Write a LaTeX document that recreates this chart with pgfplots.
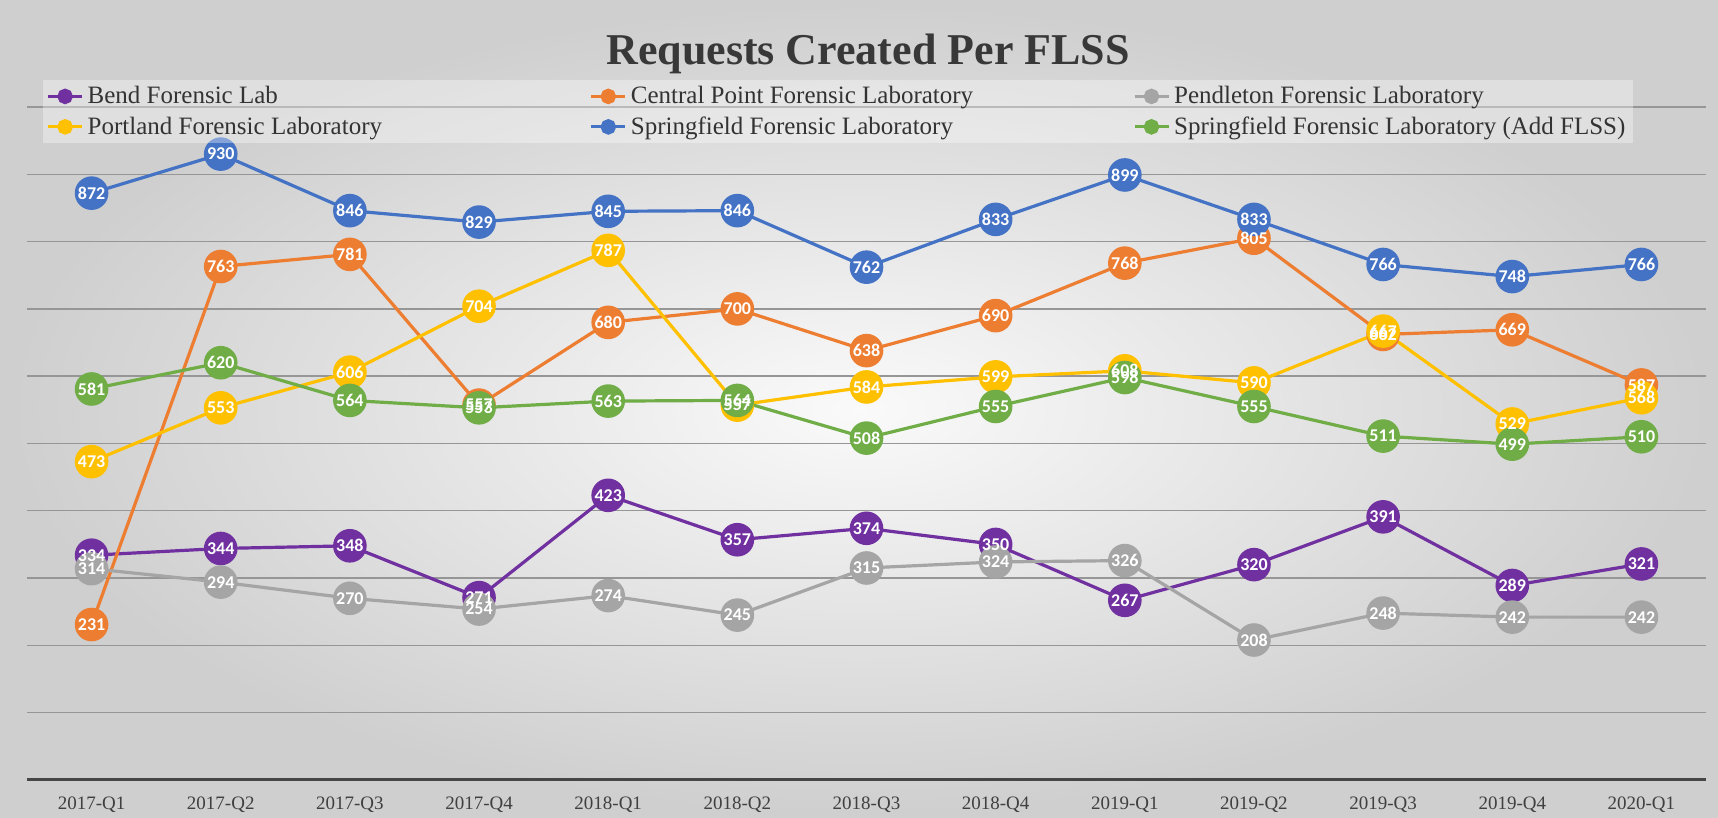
\documentclass[border=0pt]{standalone}
\usepackage{pgfplots}
\pgfplotsset{compat=1.18}
\usepackage{fontspec}
\setmainfont{Liberation Serif}
\newfontfamily\lblfont{Carlito}
\definecolor{cBend}{HTML}{7030A0}
\definecolor{cCent}{HTML}{ED7D31}
\definecolor{cPend}{HTML}{A5A5A5}
\definecolor{cPort}{HTML}{FFC000}
\definecolor{cSpri}{HTML}{4472C4}
\definecolor{cAdd}{HTML}{70AD47}
\definecolor{gridc}{RGB}{150,150,150}
\definecolor{axisc}{RGB}{70,70,70}
\begin{document}
\begin{tikzpicture}
\useasboundingbox (0,0) rectangle (859pt,409pt);
\shade[inner color=black!2, outer color=black!19] (0,0) rectangle (859pt,409pt);
\node[font=\bfseries\fontsize{22}{26}\selectfont, text=black!78] at (434pt,382pt) {Requests Created Per FLSS};
\begin{axis}[
  at={(13.5pt,19pt)}, anchor=south west,
  scale only axis, width=839.5pt, height=336.5pt,
  xmin=-0.5, xmax=12.5, ymin=0, ymax=1000,
  axis line style={draw=none},
  ytick={100,200,...,1000}, yticklabels={},
  extra y ticks={0}, extra y tick labels={},
  extra y tick style={grid style={draw=axisc, line width=1.5pt}},
  ymajorgrids, grid style={draw=gridc, line width=0.7pt},
  xtick={0,...,12},
  xticklabels={2017-Q1,2017-Q2,2017-Q3,2017-Q4,2018-Q1,2018-Q2,2018-Q3,2018-Q4,2019-Q1,2019-Q2,2019-Q3,2019-Q4,2020-Q1},
  major tick length=0pt,
  x tick label style={font=\fontsize{9.5}{11}\selectfont, text=black!75, yshift=-5pt},
  clip=false,
  /pgf/number format/assume math mode=true,
  legend columns=3,
  legend cell align=left,
  legend style={at={(0.009,0.993)}, anchor=west, draw=none, fill=white, fill opacity=0.35, text opacity=1,
     font=\fontsize{12.5}{14}\selectfont, text=black!80, inner xsep=2pt, inner ysep=1pt, row sep=1pt},
  legend image code/.code={\draw[line width=1.6pt] (0pt,0pt) -- (17pt,0pt); \draw[line width=3.8pt] (8.5pt,0pt) circle (1.9pt);},
  every axis plot/.append style={line width=1.6pt, mark=*, mark size=7.6pt},
  lab/.style={draw=none, mark=none, forget plot, nodes near coords,
     every node near coord/.style={anchor=center, text=white, font=\lblfont\bfseries\fontsize{9}{10}\selectfont}},
]
\addplot[color=cBend] coordinates {(0,334)(1,344)(2,348)(3,271)(4,423)(5,357)(6,374)(7,350)(8,267)(9,320)(10,391)(11,289)(12,321)};
\addplot[color=cCent] coordinates {(0,231)(1,763)(2,781)(3,557)(4,680)(5,700)(6,638)(7,690)(8,768)(9,805)(10,662)(11,669)(12,587)};
\addplot[color=cPend] coordinates {(0,314)(1,294)(2,270)(3,254)(4,274)(5,245)(6,315)(7,324)(8,326)(9,208)(10,248)(11,242)(12,242)};
\addplot[color=cPort] coordinates {(0,473)(1,553)(2,606)(3,704)(4,787)(5,557)(6,584)(7,599)(8,608)(9,590)(10,667)(11,529)(12,568)};
\addplot[color=cSpri] coordinates {(0,872)(1,930)(2,846)(3,829)(4,845)(5,846)(6,762)(7,833)(8,899)(9,833)(10,766)(11,748)(12,766)};
\addplot[color=cAdd] coordinates {(0,581)(1,620)(2,564)(3,553)(4,563)(5,564)(6,508)(7,555)(8,598)(9,555)(10,511)(11,499)(12,510)};
\legend{\makebox[249pt][l]{Bend Forensic Lab},\makebox[249pt][l]{Central Point Forensic Laboratory},Pendleton Forensic Laboratory,\makebox[249pt][l]{Portland Forensic Laboratory},\makebox[249pt][l]{Springfield Forensic Laboratory},Springfield Forensic Laboratory (Add FLSS)}
\addplot[lab] coordinates {(0,334)(1,344)(2,348)(3,271)(4,423)(5,357)(6,374)(7,350)(8,267)(9,320)(10,391)(11,289)(12,321)};
\addplot[lab] coordinates {(0,231)(1,763)(2,781)(3,557)(4,680)(5,700)(6,638)(7,690)(8,768)(9,805)(10,662)(11,669)(12,587)};
\addplot[lab] coordinates {(0,314)(1,294)(2,270)(3,254)(4,274)(5,245)(6,315)(7,324)(8,326)(9,208)(10,248)(11,242)(12,242)};
\addplot[lab] coordinates {(0,473)(1,553)(2,606)(3,704)(4,787)(5,557)(6,584)(7,599)(8,608)(9,590)(10,667)(11,529)(12,568)};
\addplot[lab] coordinates {(0,872)(1,930)(2,846)(3,829)(4,845)(5,846)(6,762)(7,833)(8,899)(9,833)(10,766)(11,748)(12,766)};
\addplot[lab] coordinates {(0,581)(1,620)(2,564)(3,553)(4,563)(5,564)(6,508)(7,555)(8,598)(9,555)(10,511)(11,499)(12,510)};
\end{axis}
\end{tikzpicture}
\end{document}
